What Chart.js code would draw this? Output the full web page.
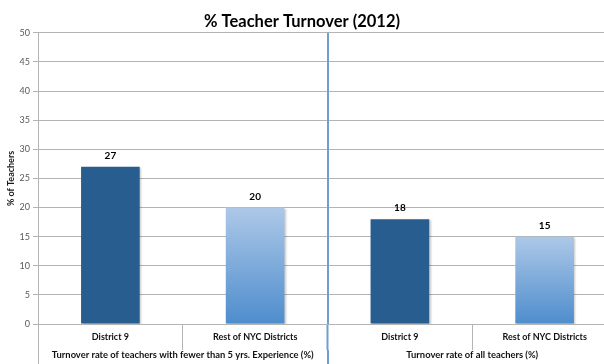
<!DOCTYPE html>
<html>
<head>
<meta charset="utf-8">
<script src="https://cdn.jsdelivr.net/npm/chart.js@4"></script>
<style>
  html, body { margin: 0; padding: 0; background: #fff; overflow: hidden; }
  #wrap { width: 604px; height: 364px; overflow: hidden; position: relative; }
  /* the source chart is cropped on both sides, so the canvas is a bit wider than the window */
  #inner { width: 630px; height: 364px; margin-left: -13px; position: relative; }
</style>
</head>
<body>
<div id="wrap"><div id="inner"><canvas id="turnoverChart"></canvas></div></div>
<script>
// --- data ---
const chartTitle = '% Teacher Turnover (2012)';
const yTitle = '% of Teachers';
const groups = ['Turnover rate of teachers with fewer than 5 yrs. Experience (%)', 'Turnover rate of all teachers (%)'];
const categories = ['District 9', 'Rest of NYC Districts', 'District 9', 'Rest of NYC Districts'];
const turnover = [27, 20, 18, 15];
const yTicks = { min: 0, max: 50, step: 5 };

// --- styles ---
const FONT = 'Lato, "Liberation Sans", sans-serif';
const darkBlue = '#285d90';
const divider = '#6e9fd3';
const gridGray = '#b4b4b4';
const cropLeft = 13;

// light bars get a vertical gradient, dark bars are flat
const barColor = (ctx) => {
    if (categories[ctx.dataIndex] === 'District 9') return darkBlue;
    const chart = ctx.chart;
    if (!chart.chartArea || !chart.scales.y) return '#7faadb';
    const y = chart.scales.y;
    const top = y.getPixelForValue(ctx.raw);
    const bottom = y.getPixelForValue(0);
    const g = chart.ctx.createLinearGradient(0, top, 0, bottom);
    g.addColorStop(0, '#adc8e8');
    g.addColorStop(1, '#4e8dcd');
    return g;
};

// value labels above bars
const valueLabels = {
    id: 'valueLabels',
    afterDatasetsDraw(chart) {
        const ctx = chart.ctx;
        const meta = chart.getDatasetMeta(0);
        ctx.save();
        ctx.font = 'bold 10px ' + FONT;
        ctx.fillStyle = '#000';
        ctx.textAlign = 'center';
        ctx.textBaseline = 'middle';
        meta.data.forEach((bar, i) => {
            ctx.fillText(String(turnover[i]), bar.x, bar.y - 11);
        });
        ctx.restore();
    }
};

// soft shadow behind the bars
const barShadow = {
    id: 'barShadow',
    beforeDatasetDraw(chart) {
        const ctx = chart.ctx;
        ctx.save();
        ctx.shadowColor = 'rgba(0,0,0,0.22)';
        ctx.shadowBlur = 2;
        ctx.shadowOffsetX = 1.5;
        ctx.shadowOffsetY = 1;
    },
    afterDatasetDraw(chart) {
        chart.ctx.restore();
    }
};

new Chart(document.getElementById('turnoverChart'), {
    type: 'bar',
    data: {
        labels: categories,
        datasets: [{
            label: yTitle,
            data: turnover,
            backgroundColor: barColor,
            borderWidth: 0,
            barPercentage: 0.405,
            categoryPercentage: 1
        }]
    },
    options: {
        responsive: true,
        maintainAspectRatio: false,
        animation: false,
        layout: { padding: 0 },
        plugins: {
            legend: { display: false },
            tooltip: { enabled: false },
            title: {
                display: true,
                text: chartTitle,
                color: '#000',
                font: { family: FONT, size: 16.5, weight: 'bold' },
                padding: { top: 12, bottom: 1 }
            }
        },
        scales: {
            y: {
                min: yTicks.min,
                max: yTicks.max,
                afterFit(scale) { scale.width = 38 + cropLeft; },
                ticks: {
                    stepSize: yTicks.step,
                    color: '#595959',
                    padding: 3,
                    font: { family: FONT, size: 9 }
                },
                grid: { color: gridGray, tickColor: gridGray, tickLength: 5 },
                border: { color: gridGray },
                title: {
                    display: true,
                    text: yTitle,
                    color: '#1a1a1a',
                    padding: { top: 6 + cropLeft, bottom: 0 },
                    font: { family: FONT, size: 9, weight: 'bold' }
                }
            },
            x: {
                weight: 0,
                afterFit(scale) { scale.height = 26; },
                grid: {
                    offset: true,
                    drawOnChartArea: false,
                    tickLength: 26,
                    tickColor: (c) => c.index === 2 ? divider : gridGray,
                    tickWidth: (c) => c.index === 2 ? 2 : 1
                },
                border: { color: gridGray },
                ticks: {
                    autoSkip: false,
                    maxRotation: 0,
                    padding: -18.4,
                    color: '#111',
                    font: { family: FONT, size: 9, weight: 'bold' }
                }
            },
            x2: {
                type: 'category',
                position: 'bottom',
                weight: 1,
                labels: groups,
                offset: true,
                afterFit(scale) { scale.height = 14; },
                grid: {
                    offset: true,
                    drawOnChartArea: true,
                    tickLength: 14,
                    color: (c) => c.index === 1 ? divider : 'rgba(0,0,0,0)',
                    lineWidth: (c) => c.index === 1 ? 2 : 1,
                    tickColor: (c) => c.index === 1 ? divider : gridGray,
                    tickWidth: (c) => c.index === 1 ? 2 : 1
                },
                border: { display: false },
                ticks: {
                    autoSkip: false,
                    maxRotation: 0,
                    padding: -14.4,
                    color: '#111',
                    font: { family: FONT, size: 9.4, weight: 'bold' }
                }
            }
        }
    },
    plugins: [barShadow, valueLabels]
});
</script>
</body>
</html>
